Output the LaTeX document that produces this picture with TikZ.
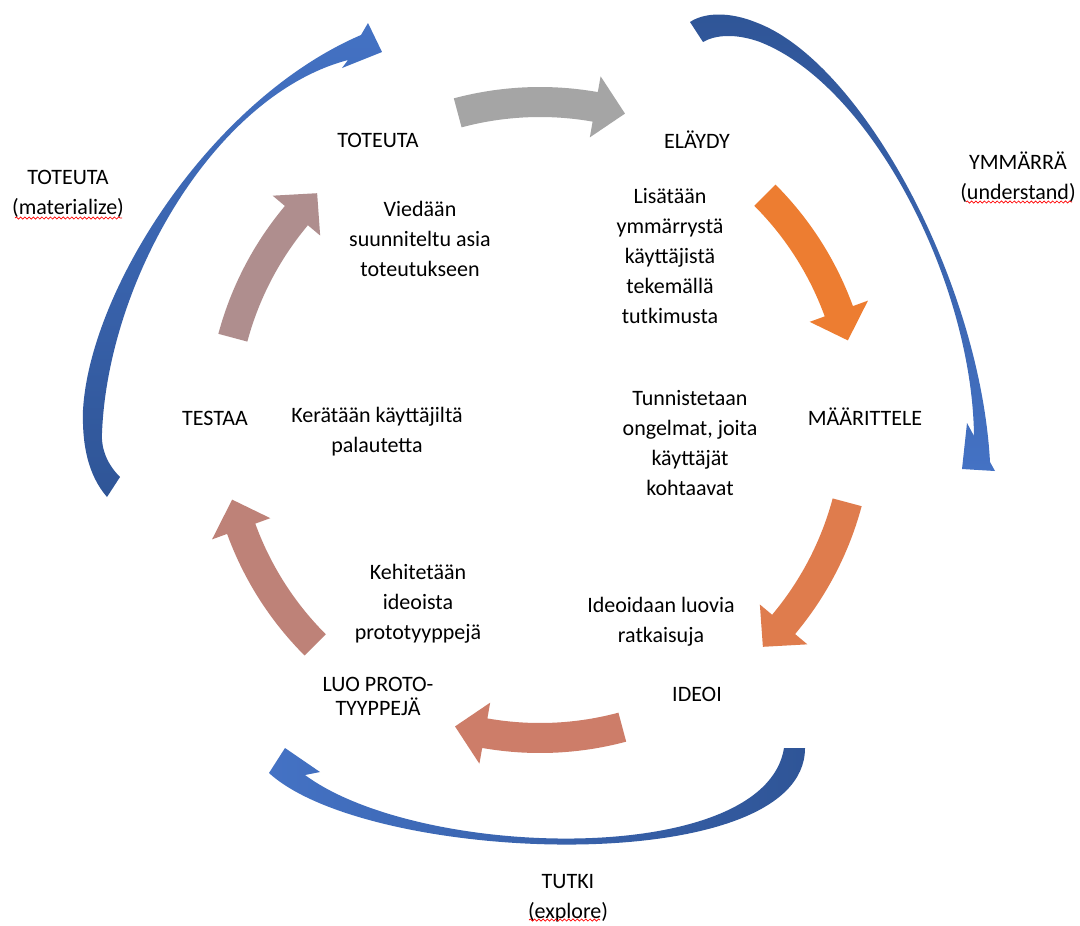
\documentclass[tikz,border=0pt]{standalone}
\usepackage{fontspec}
\setmainfont{Carlito}
\usetikzlibrary{decorations.pathmorphing}
\definecolor{cGray}{HTML}{A5A5A5}
\definecolor{cOrA}{HTML}{ED7D31}
\definecolor{cOrB}{HTML}{DF7C4D}
\definecolor{cRedA}{HTML}{CD7D69}
\definecolor{cRedB}{HTML}{BE8278}
\definecolor{cMauve}{HTML}{AF8E8E}
\definecolor{bLight}{HTML}{4472C4}
\definecolor{bDark}{HTML}{2F5597}
\newcommand\ringarrow[2]{%
  \pgfmathsetmacro\ta{#2-15}%
  \pgfmathsetmacro\tb{#2+10}%
  \pgfmathsetmacro\tc{#2+15.5}%
  \fill[#1] plot[domain=\ta:\tb,samples=30] ({540+333*cos(\x)},{420+333*sin(\x)})
     -- ({540+349*cos(\tb)},{420+349*sin(\tb)})
     -- ({540+318*cos(\tc)},{420+318*sin(\tc)})
     -- ({540+287*cos(\tb)},{420+287*sin(\tb)})
     -- plot[domain=\tb:\ta,samples=30] ({540+303*cos(\x)},{420+303*sin(\x)})
     -- cycle;
}
\begin{document}
\begin{tikzpicture}[x=0.75pt,y=-0.75pt,
  lbl/.style={font=\fontsize{16.5}{22.5}\selectfont, align=center, inner sep=0pt, text=black},
  wavy/.style={draw=red, line width=0.5pt, decorate, decoration={snake, amplitude=0.8pt, segment length=3.2pt}},
]
\useasboundingbox[fill=white] (0,0) rectangle (1080,925);

% inner cycle arrows
\ringarrow{cGray}{-90}
\ringarrow{cOrA}{-30}
\ringarrow{cOrB}{30}
\ringarrow{cRedA}{90}
\ringarrow{cRedB}{150}
\ringarrow{cMauve}{210}

% outer blue arrow: left (materialize)
\shade[top color=bLight, bottom color=bDark]
  (107,497) .. controls (88,475) and (82,445) .. (83,410)
  .. controls (90,290) and (210,100) .. (361,35)
  -- (368,23) -- (382,52) -- (342,68) -- (348,60)
  .. controls (215,95) and (108,280) .. (102,433)
  .. controls (101,450) and (108,465) .. (120,477)
  -- cycle;

% outer blue arrow: right (understand)
\shade[top color=bDark, bottom color=bLight]
  (690,22) .. controls (705,12) and (730,12) .. (755,22)
  .. controls (860,60) and (980,280) .. (990,462)
  -- (995,471) -- (962,469) -- (967,423) -- (974,436)
  .. controls (972,280) and (870,85) .. (760,42)
  .. controls (735,33) and (715,35) .. (703,42)
  -- cycle;

% outer blue arrow: bottom (explore)
\shade[left color=bLight, right color=bDark]
  (269,773) -- (285,748) -- (320,772) -- (305,775)
  .. controls (420,860) and (765,868) .. (784,748)
  -- (805,748)
  .. controls (805,880) and (370,865) .. (269,773)
  -- cycle;

% labels
\node[lbl] (toteutaIn) at (378,140) {TOTEUTA};
\node[lbl] (elaydy) at (697,140) {ELÄYDY};
\node[lbl] (ymmarra) at (1018,177) {YMMÄRRÄ\\(understand)};
\node[lbl] (toteutaOut) at (68,194) {TOTEUTA\\(materialize)};
\node[lbl] (viedaan) at (420,239) {Viedään\\suunniteltu asia\\toteutukseen};
\node[lbl] (lisataan) at (670,256) {Lisätään\\ymmärrystä\\käyttäjistä\\tekemällä\\tutkimusta};
\node[lbl] (tunnistetaan) at (690,443) {Tunnistetaan\\ongelmat, joita\\käyttäjät\\kohtaavat};
\node[lbl] (maarittele) at (865,417) {MÄÄRITTELE};
\node[lbl] (testaa) at (215,418) {TESTAA};
\node[lbl] (keraataan) at (377,432) {Kerätään käyttäjiltä\\palautetta};
\node[lbl] (kehitetaan) at (418,604) {Kehitetään\\ideoista\\prototyyppejä};
\node[lbl] (ideoidaan) at (661,622) {Ideoidaan luovia\\ratkaisuja};
\node[lbl, font=\fontsize{16.5}{18}\selectfont] (luo) at (378,696) {LUO PROTO-\\TYYPPEJÄ};
\node[lbl] (ideoi) at (697,694) {IDEOI};
\node[lbl] (tutki) at (568,898) {TUTKI\\(explore)};

% spell-check squiggles
\draw[wavy] (15,218) -- (122,218);
\draw[wavy] (966,202) -- (1072,202);
\draw[wavy] (529,920) -- (600,920);
\end{tikzpicture}
\end{document}
